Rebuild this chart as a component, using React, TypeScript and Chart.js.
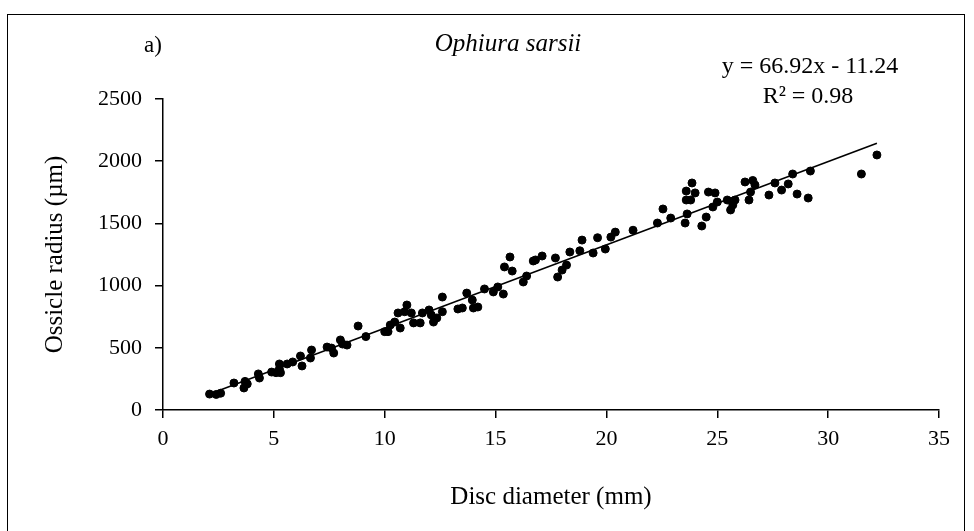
import React, { useEffect, useRef } from "react";
import { Chart, registerables } from "chart.js";

Chart.register(...registerables);

const discDiameter: number[] = [
  2.1, 2.4, 2.6, 3.2, 3.65, 3.7, 3.8, 4.3, 4.35, 4.9, 5.1, 5.25, 5.3, 5.25,
  5.6, 5.85, 6.2, 6.27, 6.65, 6.7, 7.4, 7.6, 7.7, 8.0, 8.1, 8.3, 8.8, 9.15,
  10.0, 10.15, 10.25, 10.45, 10.7, 10.6, 11.0, 10.9, 11.2, 11.3, 11.6,
  11.7, 12.0, 12.1, 12.2, 12.35, 12.6, 12.6, 13.3, 13.5, 13.7, 13.95, 14.0, 14.2,
  14.5, 14.9, 15.1, 15.35, 15.4, 15.65, 15.75, 16.25, 16.4, 16.7, 16.8, 17.1,
  17.7, 17.8, 18.0, 18.2, 18.35, 18.8, 18.9, 19.4, 19.6, 19.95, 20.2, 20.4,
  21.2, 22.3, 22.55, 22.9, 23.55, 23.64, 23.6, 23.6, 23.86, 24.0, 23.8,
  24.3, 24.5, 24.6, 24.8, 24.9, 25.0, 25.45, 25.6, 25.7, 25.8,
  26.25, 26.6, 26.7, 26.5, 26.43, 27.33, 27.6, 27.9, 28.2, 28.4, 28.6, 29.1, 29.2,
  31.5, 32.2,
];

const ossicleRadius: number[] = [
  128, 125, 135, 217, 177, 230, 210, 290, 257, 305, 300, 370, 300, 330,
  370, 386, 434, 354, 418, 482, 506, 498, 458, 563, 530, 522, 675, 590,
  630, 630, 683, 707, 659, 780, 844, 790, 780, 700, 700,
  780, 804, 764, 707, 740, 790, 908, 812, 820, 940, 884, 820, 828,
  973, 949, 989, 932, 1150, 1230, 1117, 1029, 1077, 1198, 1206, 1238,
  1222, 1069, 1125, 1165, 1270, 1280, 1366, 1262, 1385, 1294, 1390, 1430,
  1445, 1503, 1616, 1543, 1503, 1576, 1688, 1760, 1825, 1745, 1688,
  1479, 1551, 1752, 1632, 1745, 1672, 1688, 1608, 1648, 1688,
  1833, 1845, 1809, 1752, 1688, 1728, 1825, 1768, 1817, 1897, 1736, 1704, 1921,
  1897, 2050,
];

const slope = 66.92;
const intercept = -11.24;
const xTicks: number[] = [0, 5, 10, 15, 20, 25, 30, 35];
const yTicks: number[] = [0, 500, 1000, 1500, 2000, 2500];

const titleText = "Ophiura sarsii";
const panelLabel = "a)";
const equationText = "y = 66.92x - 11.24";
const r2Text = "R² = 0.98";

const FONT = "'Liberation Serif', 'DejaVu Serif', serif";

export default function App() {
  const canvasRef = useRef<HTMLCanvasElement | null>(null);

  useEffect(() => {
    if (!canvasRef.current) return;
    const points = discDiameter.map((x, i) => ({ x, y: ossicleRadius[i] }));
    const xMin = Math.min(...discDiameter);
    const xMax = Math.max(...discDiameter);
    const trend = [
      { x: xMin, y: slope * xMin + intercept },
      { x: xMax, y: slope * xMax + intercept },
    ];

    const textPlugin = {
      id: "texts",
      afterDraw(chart: any) {
        const ctx = chart.ctx;
        ctx.save();
        ctx.fillStyle = "#000";
        ctx.textBaseline = "middle";
        ctx.textAlign = "center";
        ctx.font = `23px ${FONT}`;
        ctx.fillText(panelLabel, 153, 46);
        ctx.font = `italic 25px ${FONT}`;
        ctx.fillText(titleText, 508, 44);
        ctx.font = `24px ${FONT}`;
        ctx.fillText(equationText, 810, 67);
        ctx.fillText(r2Text, 808, 97);
        ctx.restore();
      },
    };

    const chart = new Chart(canvasRef.current, {
      type: "scatter",
      data: {
        datasets: [
          {
            type: "scatter",
            data: points,
            backgroundColor: "#000",
            borderColor: "#000",
            pointRadius: 4,
            pointHoverRadius: 4,
          },
          {
            type: "line",
            data: trend,
            borderColor: "#000",
            borderWidth: 1.6,
            pointRadius: 0,
            fill: false,
          } as any,
        ],
      },
      options: {
        animation: false,
        responsive: false,
        maintainAspectRatio: false,
        events: [],
        layout: { padding: { top: 99, right: 35, left: 0, bottom: 0 } },
        plugins: {
          legend: { display: false },
          tooltip: { enabled: false },
        },
        scales: {
          x: {
            type: "linear",
            min: 0,
            max: 35,
            afterBuildTicks: (s: any) => {
              s.ticks = xTicks.map((v) => ({ value: v }));
            },
            afterFit: (s: any) => {
              s.height = 121;
            },
            ticks: {
              color: "#000",
              font: { family: FONT, size: 22 },
              padding: 8,
              maxRotation: 0,
              callback: (v: any) => String(v),
            },
            grid: {
              display: true,
              drawOnChartArea: false,
              drawTicks: true,
              tickLength: 8,
              color: "#000",
              lineWidth: 1.5,
            },
            border: { display: true, color: "#000", width: 1.5 },
            title: {
              display: true,
              text: "Disc diameter (mm)",
              color: "#000",
              font: { family: FONT, size: 25 },
              padding: { top: 0, bottom: 19 },
            },
          },
          y: {
            type: "linear",
            min: 0,
            max: 2500,
            afterBuildTicks: (s: any) => {
              s.ticks = yTicks.map((v) => ({ value: v }));
            },
            afterFit: (s: any) => {
              s.width = 163;
            },
            ticks: {
              color: "#000",
              font: { family: FONT, size: 22 },
              padding: 13,
              callback: (v: any) => String(v),
            },
            grid: {
              display: true,
              drawOnChartArea: false,
              drawTicks: true,
              tickLength: 8,
              color: "#000",
              lineWidth: 1.5,
            },
            border: { display: true, color: "#000", width: 1.5 },
            title: {
              display: true,
              text: "Ossicle radius (µm)",
              color: "#000",
              font: { family: FONT, size: 25 },
              padding: { top: 40, bottom: 0 },
            },
          },
        },
      },
      plugins: [textPlugin],
    });
    return () => chart.destroy();
  }, []);

  return (
    <div style={{ position: "absolute", left: 0, top: 0, width: 974, height: 531, background: "#fff" }}>
      <div
        style={{
          position: "absolute",
          left: 7,
          top: 14,
          width: 958,
          height: 530,
          border: "1.5px solid #000",
          boxSizing: "border-box",
        }}
      />
      <canvas
        ref={canvasRef}
        width={974}
        height={531}
        style={{ position: "absolute", left: 0, top: 0, width: 974, height: 531 }}
      />
    </div>
  );
}
